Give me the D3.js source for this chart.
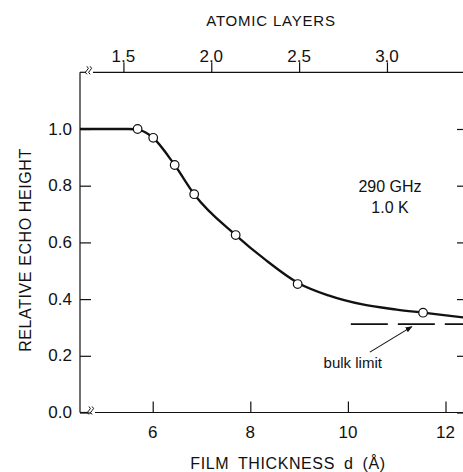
<!DOCTYPE html>
<html>
<head>
<meta charset="utf-8">
<script src="https://cdn.jsdelivr.net/npm/d3@7"></script>
<style>
  body { margin: 0; background: #fff; }
  svg text { font-family: "Liberation Sans", Arial, sans-serif; fill: #111; }
</style>
</head>
<body>
<div id="chart"></div>
<script>
// measured points (film thickness in Angstrom, relative echo height)
const thickness = [5.69, 6.01, 6.45, 6.85, 7.70, 8.97, 11.54];
const echoHeight = [1.0, 0.969, 0.873, 0.770, 0.626, 0.453, 0.352];

// hand-drawn smooth curve through the points
const curveThickness = [4.51, 5.5, 5.75, 6.0, 6.45, 6.85, 7.7, 8.3, 8.97, 9.6, 10.3, 11.0, 11.54, 12.42];
const curveHeight = [1.0, 1.0, 0.995, 0.97, 0.873, 0.770, 0.626, 0.54, 0.458, 0.413, 0.381, 0.363, 0.352, 0.334];

const bulkLimit = 0.312;
const bulkStart = 10.06;

const xTicks = [6, 8, 10, 12];
const yTicks = [0, 0.2, 0.4, 0.6, 0.8, 1.0];
const layerTicks = [1.5, 2.0, 2.5, 3.0];
const layerSpacing = 3.6; // angstrom per atomic layer

const width = 463, height = 472;
const plotLeft = 80, plotRight = 466, plotTop = 72.3, plotBottom = 412.5;

const svg = d3.select("#chart").append("svg")
  .attr("width", width)
  .attr("height", height);

const x = d3.scaleLinear().domain([4.51, 12.42]).range([plotLeft, plotRight]);
const y = d3.scaleLinear().domain([0, 1.2]).range([plotBottom, plotTop]);
const xLayer = d3.scaleLinear()
  .domain([4.51 / layerSpacing, 12.42 / layerSpacing])
  .range([plotLeft, plotRight]);

// axes, ticks pointing into the plot (bottom / left / right) and up on top
const bottomAxis = svg.append("g")
  .attr("transform", `translate(0,${plotBottom})`)
  .call(d3.axisTop(x).tickValues(xTicks).tickSize(11).tickFormat(""));
const topAxis = svg.append("g")
  .attr("transform", `translate(0,${plotTop})`)
  .call(d3.axisTop(xLayer).tickValues(layerTicks).tickSize(10).tickFormat(""));
const leftAxis = svg.append("g")
  .attr("transform", `translate(${plotLeft},0)`)
  .call(d3.axisRight(y).tickValues(yTicks).tickSize(11).tickFormat(""));
const rightAxis = svg.append("g")
  .attr("transform", `translate(${plotRight},0)`)
  .call(d3.axisLeft(y).tickValues(yTicks).tickSize(9).tickFormat(""));

[bottomAxis, topAxis, leftAxis, rightAxis].forEach(g => {
  g.select(".domain").remove();
  g.selectAll(".tick line").attr("stroke", "#111").attr("stroke-width", 1.2);
});

// frame lines, with a break near the left end of top and bottom
const frame = svg.append("g").attr("stroke", "#111").attr("stroke-width", 1.2).attr("fill", "none");
frame.append("line").attr("x1", plotLeft).attr("x2", plotLeft).attr("y1", plotTop).attr("y2", plotBottom);
frame.append("line").attr("x1", plotLeft).attr("x2", plotLeft + 6).attr("y1", plotTop).attr("y2", plotTop);
frame.append("line").attr("x1", plotLeft + 13).attr("x2", plotRight).attr("y1", plotTop).attr("y2", plotTop);
frame.append("line").attr("x1", plotLeft).attr("x2", plotLeft + 8).attr("y1", plotBottom).attr("y2", plotBottom);
frame.append("line").attr("x1", plotLeft + 15).attr("x2", plotRight).attr("y1", plotBottom).attr("y2", plotBottom);

function breakMark(cx, cy) {
  [-1.6, 1.6].forEach(dx => {
    frame.append("path")
      .attr("stroke-width", 1)
      .attr("d", `M${cx + dx - 1},${cy - 4} q3,2 0,4 q-3,2 0,4`);
  });
}
breakMark(plotLeft + 9.5, plotTop - 2);
breakMark(plotLeft + 11.5, plotBottom - 2);

// tick labels
const labelFont = 17;
svg.append("g").selectAll("text").data(xTicks).join("text")
  .attr("x", d => x(d)).attr("y", 432)
  .attr("text-anchor", "middle").attr("dominant-baseline", "central")
  .style("font-size", labelFont + "px")
  .text(d => d);
svg.append("g").selectAll("text").data(layerTicks).join("text")
  .attr("x", d => xLayer(d)).attr("y", 56)
  .attr("text-anchor", "middle").attr("dominant-baseline", "central")
  .style("font-size", labelFont + "px")
  .text(d => d3.format(".1f")(d));
svg.append("g").selectAll("text").data(yTicks).join("text")
  .attr("x", 72).attr("y", d => y(d))
  .attr("text-anchor", "end").attr("dominant-baseline", "central")
  .style("font-size", labelFont + "px")
  .text(d => d3.format(".1f")(d));

// axis titles
svg.append("text")
  .attr("x", 271).attr("y", 20)
  .attr("text-anchor", "middle").attr("dominant-baseline", "central")
  .style("font-size", "15px").style("letter-spacing", "0.8px")
  .text("ATOMIC LAYERS");
svg.append("text")
  .attr("x", 288).attr("y", 463)
  .attr("text-anchor", "middle").attr("dominant-baseline", "central")
  .style("font-size", "16px").style("letter-spacing", "0.6px").style("word-spacing", "4px")
  .text("FILM THICKNESS d (Å)");
svg.append("text")
  .attr("transform", "translate(25,250) rotate(-90)")
  .attr("text-anchor", "middle").attr("dominant-baseline", "central")
  .style("font-size", "16px").style("letter-spacing", "0.6px")
  .text("RELATIVE ECHO HEIGHT");

// fitted curve
const line = d3.line()
  .x((d, i) => x(curveThickness[i]))
  .y(d => y(d))
  .curve(d3.curveMonotoneX);
svg.append("path")
  .datum(curveHeight)
  .attr("d", line)
  .attr("fill", "none")
  .attr("stroke", "#111")
  .attr("stroke-width", 2.3);

// bulk limit dashed line
svg.append("line")
  .attr("x1", x(bulkStart)).attr("x2", plotRight)
  .attr("y1", y(bulkLimit)).attr("y2", y(bulkLimit))
  .attr("stroke", "#111").attr("stroke-width", 1.8)
  .attr("stroke-dasharray", "37,10");

// data points
svg.append("g").selectAll("circle").data(echoHeight).join("circle")
  .attr("cx", (d, i) => x(thickness[i]))
  .attr("cy", d => y(d))
  .attr("r", 4.3)
  .attr("fill", "#fff")
  .attr("stroke", "#111")
  .attr("stroke-width", 1.2);

// annotations
svg.append("text")
  .attr("x", 390).attr("y", 186)
  .attr("text-anchor", "middle").attr("dominant-baseline", "central")
  .style("font-size", "16px")
  .text("290 GHz");
svg.append("text")
  .attr("x", 390).attr("y", 207)
  .attr("text-anchor", "middle").attr("dominant-baseline", "central")
  .style("font-size", "16px")
  .text("1.0 K");
svg.append("text")
  .attr("x", x(10.1)).attr("y", y(0.178))
  .attr("text-anchor", "middle").attr("dominant-baseline", "central")
  .style("font-size", "15px")
  .text("bulk limit");

svg.append("defs").append("marker")
  .attr("id", "head")
  .attr("viewBox", "0 0 10 10")
  .attr("refX", 9).attr("refY", 5)
  .attr("markerWidth", 7).attr("markerHeight", 7)
  .attr("markerUnits", "userSpaceOnUse")
  .attr("orient", "auto")
  .append("path").attr("d", "M0,1 L10,5 L0,9 Z").attr("fill", "#111");
svg.append("line")
  .attr("x1", x(10.45)).attr("y1", y(0.213))
  .attr("x2", x(11.31)).attr("y2", y(0.303))
  .attr("stroke", "#111").attr("stroke-width", 1.1)
  .attr("marker-end", "url(#head)");
</script>
</body>
</html>
